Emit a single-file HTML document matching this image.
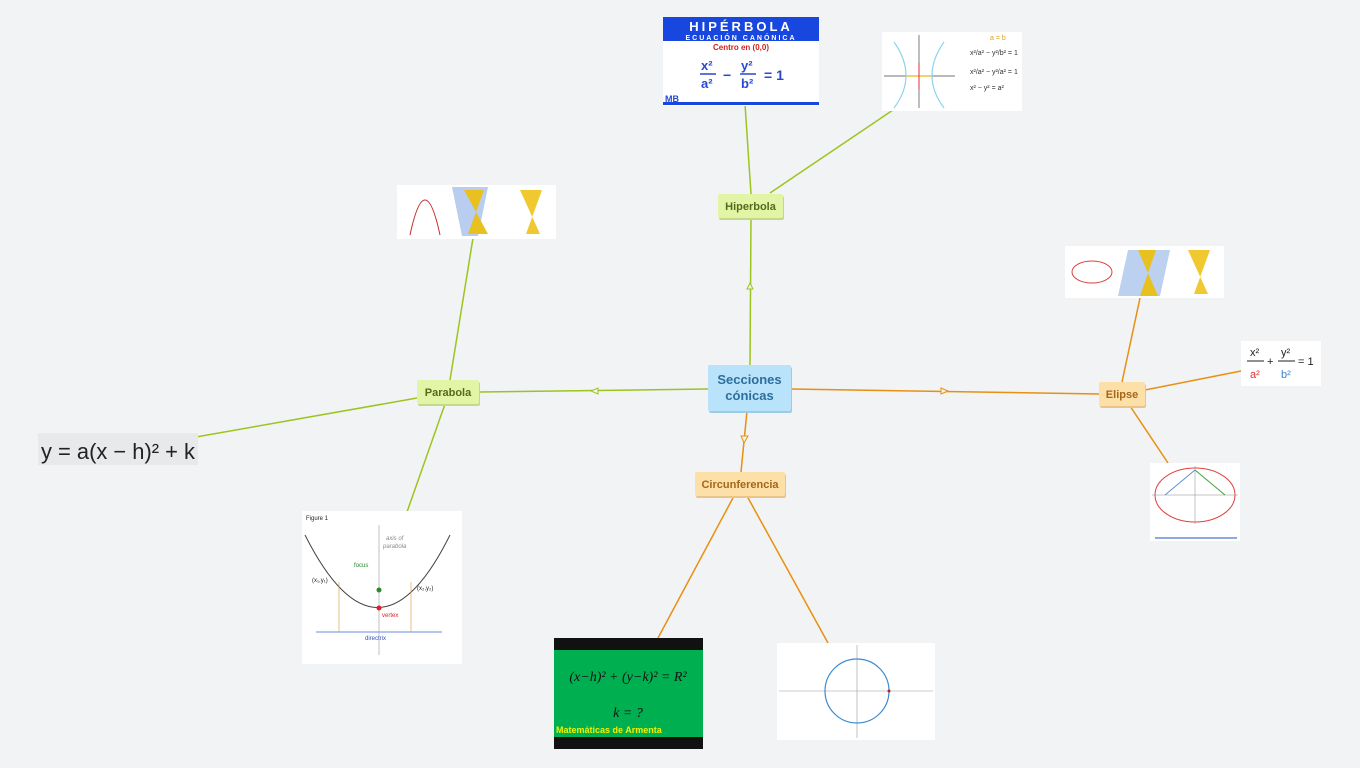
<!DOCTYPE html>
<html><head><meta charset="utf-8"><style>
body{margin:0;background:#f1f3f5;}
svg{display:block;font-family:"Liberation Sans",sans-serif;}
</style></head><body>
<svg width="1360" height="768" viewBox="0 0 1360 768">
<rect width="1360" height="768" fill="#f1f3f5"/>
<g stroke="#9dc41e" stroke-width="1.5" fill="none">
<line x1="750" y1="365" x2="751" y2="218"/>
<line x1="751" y1="194" x2="745" y2="104"/>
<line x1="770" y1="193" x2="893" y2="110"/>
<line x1="708" y1="389" x2="479" y2="392"/>
<line x1="450" y1="380" x2="473" y2="238"/>
<line x1="417" y1="398" x2="196" y2="437"/>
<line x1="445" y1="404" x2="407" y2="512"/>
</g>
<g stroke="#e8900f" stroke-width="1.5" fill="none">
<line x1="791" y1="389" x2="1099" y2="394"/>
<line x1="1122" y1="382" x2="1140" y2="298"/>
<line x1="1145" y1="390" x2="1241" y2="371"/>
<line x1="1130" y1="406" x2="1168" y2="463"/>
<line x1="747" y1="411" x2="741" y2="472"/>
<line x1="734" y1="496" x2="658" y2="638"/>
<line x1="747" y1="496" x2="828" y2="643"/>
</g>
<g stroke-width="1" fill="#f1f3f5">
<polygon points="747,289 753,289 750,283" stroke="#9dc41e"/>
<polygon points="598,388 598,394 591,391" stroke="#9dc41e"/>
<polygon points="941,388 941,394 948,391" stroke="#e8900f"/>
<polygon points="741,436 748,436 744,443" stroke="#e8900f"/>
</g>
<g>
<rect x="709" y="367" width="83" height="46" rx="2" fill="#9ccbe6"/>
<rect x="708" y="365" width="83" height="46" rx="2" fill="#b9e3fb"/>
<text x="749.5" y="384" font-size="13" font-weight="bold" fill="#2d6f9c" text-anchor="middle">Secciones</text>
<text x="749.5" y="400" font-size="13" font-weight="bold" fill="#2d6f9c" text-anchor="middle">cónicas</text>
<rect x="719" y="196" width="65" height="24" rx="2" fill="#c3d98a"/>
<rect x="718" y="194" width="65" height="24" rx="2" fill="#e2f4a6"/>
<text x="750.5" y="210" font-size="11" font-weight="bold" fill="#566a1c" text-anchor="middle">Hiperbola</text>
<rect x="418" y="382" width="62" height="24" rx="2" fill="#c3d98a"/>
<rect x="417" y="380" width="62" height="24" rx="2" fill="#e2f4a6"/>
<text x="448" y="396" font-size="11" font-weight="bold" fill="#566a1c" text-anchor="middle">Parabola</text>
<rect x="696" y="474" width="90" height="24" rx="2" fill="#eac58a"/>
<rect x="695" y="472" width="90" height="24" rx="2" fill="#fde0a8"/>
<text x="740" y="488" font-size="11" font-weight="bold" fill="#a6651b" text-anchor="middle">Circunferencia</text>
<rect x="1100" y="384" width="46" height="24" rx="2" fill="#eac58a"/>
<rect x="1099" y="382" width="46" height="24" rx="2" fill="#fde0a8"/>
<text x="1122" y="398" font-size="11" font-weight="bold" fill="#a6651b" text-anchor="middle">Elipse</text>
</g>
<!-- hiperbola image -->
<rect x="663" y="17" width="156" height="89" fill="#fff"/>
<rect x="663" y="17" width="156" height="24" fill="#1847e0"/>
<text x="741" y="31" font-size="13" font-weight="bold" fill="#fff" text-anchor="middle" letter-spacing="3">HIPÉRBOLA</text>
<text x="741" y="40" font-size="7" font-weight="bold" fill="#fff" text-anchor="middle" letter-spacing="2">ECUACIÓN CANÓNICA</text>
<text x="741" y="50" font-size="8" font-weight="bold" fill="#d02020" text-anchor="middle">Centro en (0,0)</text>
<text x="701" y="70" font-size="13" font-weight="bold" fill="#2848d0">x²</text>
<line x1="700" y1="74" x2="716" y2="74" stroke="#2848d0" stroke-width="1.5"/>
<text x="701" y="88" font-size="13" font-weight="bold" fill="#2848d0">a²</text>
<text x="723" y="80" font-size="14" font-weight="bold" fill="#2848d0">−</text>
<text x="741" y="70" font-size="13" font-weight="bold" fill="#2848d0">y²</text>
<line x1="740" y1="74" x2="756" y2="74" stroke="#2848d0" stroke-width="1.5"/>
<text x="741" y="88" font-size="13" font-weight="bold" fill="#2848d0">b²</text>
<text x="764" y="80" font-size="14" font-weight="bold" fill="#2848d0">= 1</text>
<text x="665" y="102" font-size="9" font-weight="bold" fill="#2848d0">MB</text>
<rect x="663" y="102" width="156" height="3" fill="#1847e0"/>
<!-- hiperbola graph -->
<rect x="882" y="32" width="140" height="79" fill="#fff"/>
<line x1="884" y1="76" x2="955" y2="76" stroke="#444" stroke-width=".7"/>
<line x1="919" y1="35" x2="919" y2="108" stroke="#444" stroke-width=".7"/>
<line x1="906" y1="76" x2="932" y2="76" stroke="#f2c040" stroke-width="1.5"/>
<line x1="919" y1="63" x2="919" y2="89" stroke="#e03030" stroke-width="1"/>
<path d="M894 42 Q918 76 894 108 M944 42 Q920 76 944 108" stroke="#8fd3ee" stroke-width="1.2" fill="none"/>
<text x="990" y="40" font-size="7" fill="#e0a020">a = b</text>
<text x="970" y="55" font-size="7" fill="#333">x²/a² − y²/b² = 1</text>
<text x="970" y="74" font-size="7" fill="#333">x²/a² − y²/a² = 1</text>
<text x="970" y="90" font-size="7" fill="#333">x² − y² = a²</text>
<!-- parabola image -->
<rect x="397" y="185" width="159" height="54" fill="#fff"/>
<path d="M410 235 Q425 165 440 235" stroke="#c03030" fill="none"/>
<polygon points="452,187 488,187 478,236 462,236" fill="#b8cdf0"/>
<polygon points="464,190 484,190 468,234 488,234" fill="#e8c020"/>
<polygon points="520,190 542,190 526,234 540,234" fill="#f0c830"/>
<!-- parabola equation -->
<rect x="38" y="433" width="160" height="32" fill="#e8e9ea"/>
<text x="41" y="459" font-size="22" fill="#222" textLength="154" lengthAdjust="spacingAndGlyphs">y = a(x − h)² + k</text>
<!-- parabola figure -->
<rect x="302" y="511" width="160" height="153" fill="#fff"/>
<text x="306" y="520" font-size="6" fill="#222">Figure 1</text>
<text x="386" y="540" font-size="6" font-style="italic" fill="#888">axis of</text>
<text x="383" y="548" font-size="6" font-style="italic" fill="#888">parabola</text>
<path d="M305 535 Q378 680 450 535" stroke="#444" fill="none"/>
<line x1="316" y1="632" x2="442" y2="632" stroke="#6a8ee0"/>
<line x1="379" y1="525" x2="379" y2="655" stroke="#999" stroke-width=".6"/>
<line x1="339" y1="582" x2="339" y2="632" stroke="#e09030" stroke-width=".6"/>
<line x1="411" y1="582" x2="411" y2="632" stroke="#e09030" stroke-width=".6"/>
<circle cx="379" cy="590" r="2.5" fill="#2a8a2a"/><circle cx="379" cy="608" r="2.5" fill="#e02020"/>
<text x="354" y="567" font-size="6" fill="#2a8a2a">focus</text>
<text x="382" y="617" font-size="6" fill="#e02020">vertex</text>
<text x="312" y="582" font-size="6" fill="#222">(x₁,y₁)</text>
<text x="417" y="590" font-size="6" fill="#222">(x₂,y₂)</text>
<text x="365" y="640" font-size="6" fill="#3050c0">directrix</text>
<!-- elipse images -->
<rect x="1065" y="246" width="159" height="52" fill="#fff"/>
<ellipse cx="1092" cy="272" rx="20" ry="11" fill="none" stroke="#e04040"/>
<polygon points="1128,250 1170,250 1160,296 1118,296" fill="#bcd0f0"/>
<polygon points="1138,250 1156,250 1140,296 1158,296" fill="#e8c020"/>
<polygon points="1188,250 1210,250 1194,294 1208,294" fill="#f0c830"/>
<rect x="1241" y="341" width="80" height="45" fill="#fff"/>
<text x="1250" y="356" font-size="11" fill="#222">x²</text>
<line x1="1247" y1="361" x2="1264" y2="361" stroke="#222"/>
<text x="1250" y="378" font-size="11" fill="#e03030">a²</text>
<text x="1267" y="365" font-size="11" fill="#222">+</text>
<text x="1281" y="356" font-size="11" fill="#222">y²</text>
<line x1="1278" y1="361" x2="1295" y2="361" stroke="#222"/>
<text x="1281" y="378" font-size="11" fill="#3a80d0">b²</text>
<text x="1298" y="365" font-size="11" fill="#222">= 1</text>
<rect x="1150" y="463" width="90" height="78" fill="#fff"/>
<ellipse cx="1195" cy="495" rx="40" ry="27" fill="none" stroke="#e04040"/>
<line x1="1152" y1="495" x2="1238" y2="495" stroke="#888" stroke-width=".5"/>
<line x1="1195" y1="466" x2="1195" y2="524" stroke="#888" stroke-width=".5"/>
<line x1="1165" y1="495" x2="1195" y2="470" stroke="#6090d0"/>
<line x1="1195" y1="470" x2="1225" y2="495" stroke="#40a040"/>
<line x1="1155" y1="538" x2="1237" y2="538" stroke="#2050c0"/>
<!-- circunferencia images -->
<rect x="554" y="638" width="149" height="111" fill="#00b050"/>
<rect x="554" y="638" width="149" height="12" fill="#111"/>
<rect x="554" y="737" width="149" height="12" fill="#111"/>
<text x="628" y="681" font-size="14" font-style="italic" font-family="Liberation Serif,serif" fill="#111" text-anchor="middle">(x−h)² + (y−k)² = R²</text>
<text x="628" y="717" font-size="14" font-style="italic" font-family="Liberation Serif,serif" fill="#111" text-anchor="middle">k = ?</text>
<text x="556" y="733" font-size="9" font-weight="bold" fill="#f0f000">Matemáticas de Armenta</text>
<rect x="777" y="643" width="158" height="97" fill="#fff"/>
<line x1="779" y1="691" x2="933" y2="691" stroke="#999" stroke-width=".6"/>
<line x1="857" y1="645" x2="857" y2="738" stroke="#999" stroke-width=".6"/>
<circle cx="857" cy="691" r="32" fill="none" stroke="#3a8ad0" stroke-width="1.2"/>
<circle cx="889" cy="691" r="1.5" fill="#c02020"/>
</svg>
</body></html>
